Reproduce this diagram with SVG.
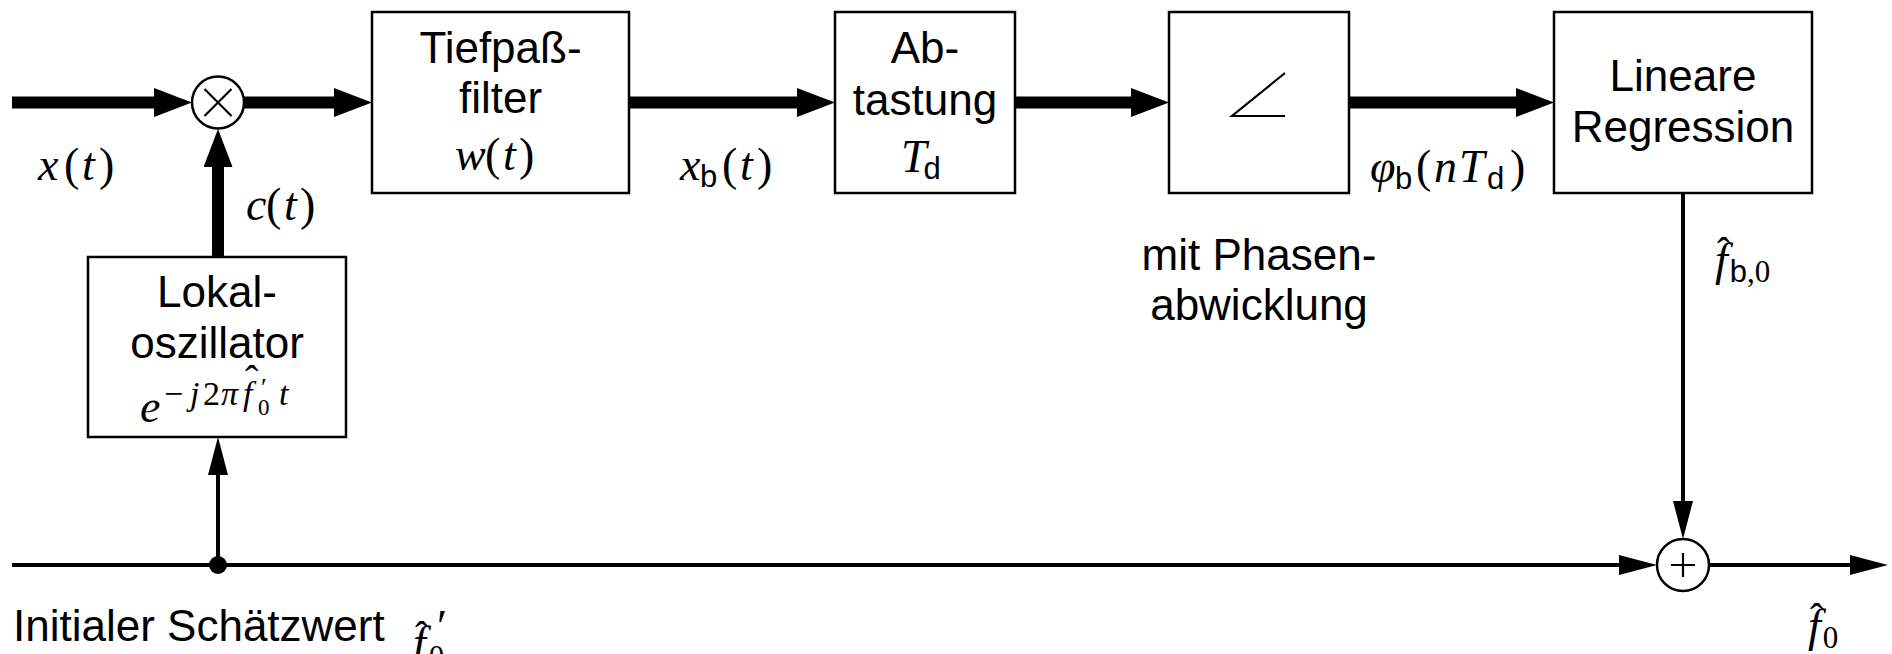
<svg xmlns="http://www.w3.org/2000/svg" width="1892" height="654" viewBox="0 0 1892 654">
<style>
.box{fill:#fff;stroke:#000;stroke-width:2.5}
.thick{fill:none;stroke:#000;stroke-width:12}
.thin{fill:none;stroke:#000;stroke-width:4}
.sym{fill:#fff;stroke:#000;stroke-width:2.5}
.ln{fill:none;stroke:#000;stroke-width:2.2}
.t{font-family:"Liberation Sans",Arial,sans-serif;font-size:44px;text-anchor:middle;fill:#000}
.ts{font-family:"Liberation Sans",Arial,sans-serif;font-size:44px;fill:#000}
.m{font-family:"Liberation Serif","Times New Roman",serif;font-size:46px;fill:#000}
.i{font-style:italic}
.sb{font-family:"Liberation Sans",Arial,sans-serif;font-size:31px;font-style:normal}
.sub{font-size:31px}
.hat{font-family:"Liberation Serif",serif;font-size:40px;fill:#000}
</style>
<defs>
<marker id="ah" markerUnits="userSpaceOnUse" markerWidth="40" markerHeight="30" refX="4" refY="14.5" orient="auto"><path d="M0,0 L38,14.5 L0,29 z" fill="#000"/></marker>
<marker id="ahs" markerUnits="userSpaceOnUse" markerWidth="40" markerHeight="22" refX="4" refY="10" orient="auto"><path d="M0,0 L38,10 L0,20 z" fill="#000"/></marker>
</defs>

<g id="connectors">
<path class="thick" d="M12,102.5 H158" marker-end="url(#ah)"/>
<path class="thick" d="M244,102.5 H338" marker-end="url(#ah)"/>
<path class="thick" d="M629,102.5 H801" marker-end="url(#ah)"/>
<path class="thick" d="M1015,102.5 H1135" marker-end="url(#ah)"/>
<path class="thick" d="M1349,102.5 H1520" marker-end="url(#ah)"/>
<path class="thick" d="M218,257 V163" marker-end="url(#ah)"/>
<path class="thin" d="M12,565 H1623" marker-end="url(#ahs)"/>
<path class="thin" d="M218,565 V471" marker-end="url(#ahs)"/>
<path class="thin" d="M1683,193 V505" marker-end="url(#ahs)"/>
<path class="thin" d="M1709,565 H1854" marker-end="url(#ahs)"/>
<circle cx="218" cy="565" r="9" fill="#000"/>
</g>

<g id="mixer">
<circle class="sym" cx="218" cy="102.5" r="26"/>
<path class="ln" d="M204.5,89 L231.5,116 M231.5,89 L204.5,116"/>
</g>

<g id="tiefpass">
<rect class="box" x="372" y="12" width="257" height="181"/>
<text class="t" x="500.5" y="63">Tiefpaß-</text>
<text class="t" x="500.5" y="113">filter</text>
<text class="m" y="170"><tspan class="i" x="455">w</tspan><tspan x="485">(</tspan><tspan class="i" x="503">t</tspan><tspan x="519">)</tspan></text>
</g>

<g id="abtastung">
<rect class="box" x="835" y="12" width="180" height="181"/>
<text class="t" x="925" y="63">Ab-</text>
<text class="t" x="925" y="115">tastung</text>
<text class="m" x="901" y="172"><tspan class="i">T</tspan><tspan class="sb" dx="-3" dy="7">d</tspan></text>
</g>

<g id="phase">
<rect class="box" x="1169" y="12" width="180" height="181"/>
<path class="ln" d="M1285,73 L1232,116 H1285"/>
</g>

<g id="regression">
<rect class="box" x="1554" y="12" width="258" height="181"/>
<text class="t" x="1683" y="91">Lineare</text>
<text class="t" x="1683" y="142">Regression</text>
</g>

<g id="lokal">
<rect class="box" x="88" y="257" width="258" height="180"/>
<text class="t" x="217" y="307">Lokal-</text>
<text class="t" x="217" y="358">oszillator</text>
<text class="m" y="422"><tspan class="i" x="140">e</tspan><tspan font-size="34" x="164" y="405">−</tspan><tspan class="i" font-size="34" x="190">j</tspan><tspan font-size="34" x="203">2</tspan><tspan class="i" font-size="34" x="221">π</tspan><tspan class="i" font-size="34" x="243">f</tspan><tspan font-size="26" x="261" y="396">′</tspan><tspan font-size="23" x="258" y="415">0</tspan><tspan class="i" font-size="34" x="279" y="405">t</tspan></text>
<text class="hat" x="245" y="393" font-size="26">ˆ</text>
</g>

<g id="plus">
<circle class="sym" cx="1683" cy="565" r="26"/>
<path class="ln" d="M1671,565 H1695 M1683,553 V577"/>
</g>

<g id="labels">
<text class="m" y="180"><tspan class="i" x="38">x</tspan><tspan x="64">(</tspan><tspan class="i" x="82">t</tspan><tspan x="99">)</tspan></text>
<text class="m" y="220"><tspan class="i" x="246">c</tspan><tspan x="266">(</tspan><tspan class="i" x="284">t</tspan><tspan x="300">)</tspan></text>
<text class="m" y="180"><tspan class="i" x="680">x</tspan><tspan class="sb" x="700" y="187">b</tspan><tspan x="722" y="180">(</tspan><tspan class="i" x="740">t</tspan><tspan x="757">)</tspan></text>
<text class="m" y="182"><tspan class="i" x="1370">φ</tspan><tspan class="sb" x="1395" y="189">b</tspan><tspan x="1416" y="182">(</tspan><tspan class="i" x="1434">n</tspan><tspan class="i" x="1459">T</tspan><tspan class="sb" x="1487" y="189">d</tspan><tspan x="1510" y="182">)</tspan></text>
<text class="m" x="1715" y="275"><tspan class="i">f</tspan><tspan class="sb" dx="2" dy="7">b</tspan><tspan class="sub">,0</tspan></text>
<text class="hat" x="1717" y="265">ˆ</text>
<text class="t" x="1259" y="270">mit Phasen-</text>
<text class="t" x="1259" y="320">abwicklung</text>
<text class="ts" x="13" y="641">Initialer Schätzwert</text>
<text class="m" x="413" y="658"><tspan class="i">f</tspan><tspan class="sub" dx="3" dy="9">0</tspan></text>
<text class="m" x="437" y="642" font-size="32">′</text>
<text class="hat" x="415" y="649">ˆ</text>
<text class="m" x="1808" y="641"><tspan class="i">f</tspan><tspan class="sub" dx="2" dy="7">0</tspan></text>
<text class="hat" x="1810" y="631">ˆ</text>
</g>
</svg>
